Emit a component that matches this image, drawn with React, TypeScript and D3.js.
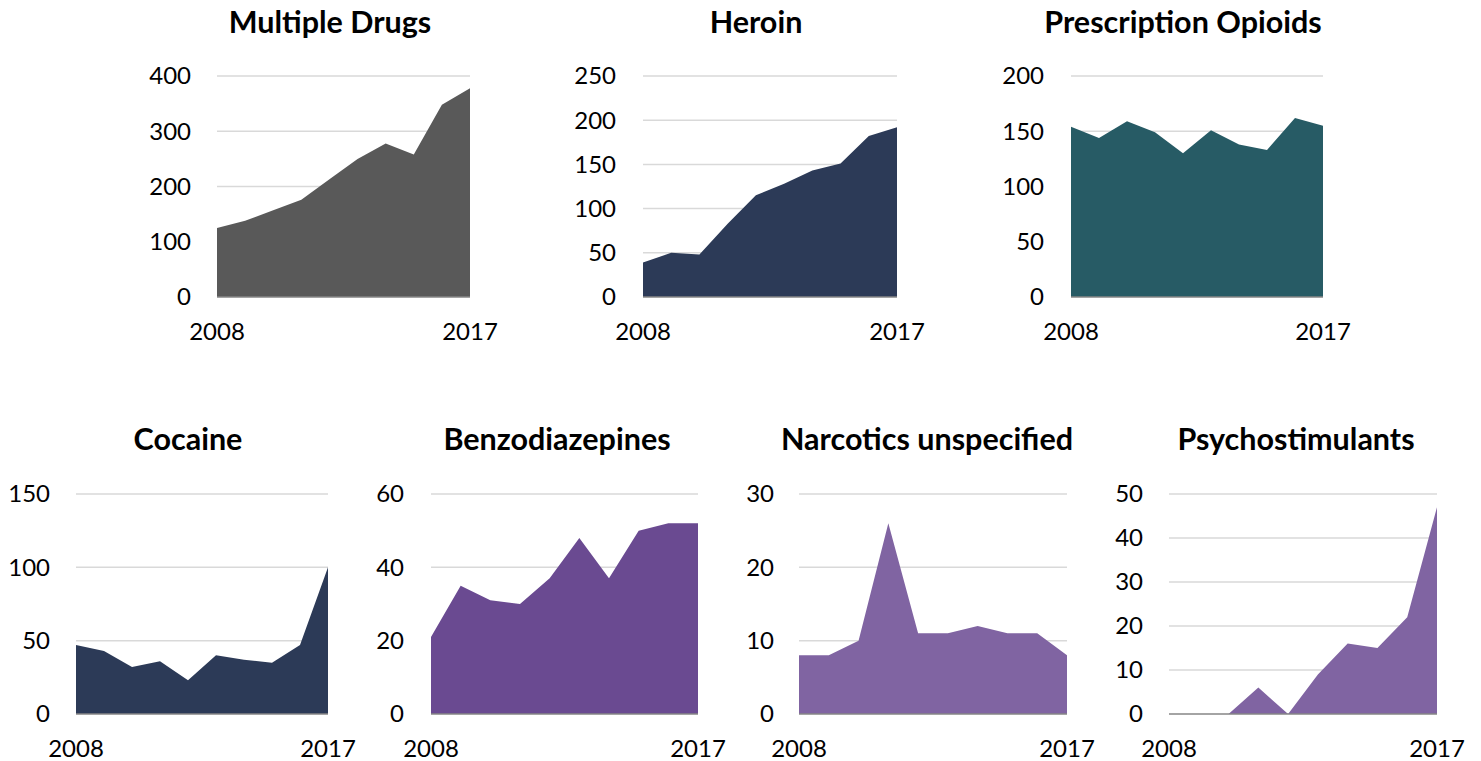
import React from "react";
import * as d3 from "d3";

const years = [2008, 2009, 2010, 2011, 2012, 2013, 2014, 2015, 2016, 2017];
const xTickLabels = ["2008", "2017"];

const multipleDrugs = [125, 138, 157, 176, 213, 250, 278, 258, 348, 378];
const heroin = [39, 50, 48, 83, 115, 128, 143, 151, 182, 192];
const prescriptionOpioids = [154, 144, 159, 149, 130, 151, 138, 133, 162, 155];
const cocaine = [47, 43, 32, 36, 23, 40, 37, 35, 47, 100];
const benzodiazepines = [21, 35, 31, 30, 37, 48, 37, 50, 52, 52];
const narcoticsUnspecified = [8, 8, 10, 26, 11, 11, 12, 11, 11, 8];
const psychostimulants = [0, 0, 0, 6, 0, 9, 16, 15, 22, 47];

const yTicksMultiple = [0, 100, 200, 300, 400];
const yTicksHeroin = [0, 50, 100, 150, 200, 250];
const yTicksPresc = [0, 50, 100, 150, 200];
const yTicksCocaine = [0, 50, 100, 150];
const yTicksBenzo = [0, 20, 40, 60];
const yTicksNarc = [0, 10, 20, 30];
const yTicksPsycho = [0, 10, 20, 30, 40, 50];

type Panel = {
  title: string;
  values: number[];
  ticks: number[];
  color: string;
  x0: number; x1: number; yTop: number; yBottom: number;
  titleX: number; titleY: number; labelRight: number; xLabelY: number;
};

const panels: Panel[] = [
  { title: "Multiple Drugs", values: multipleDrugs, ticks: yTicksMultiple, color: "#595959",
    x0: 217, x1: 470, yTop: 76, yBottom: 297, titleX: 330, titleY: 33, labelRight: 191, xLabelY: 340 },
  { title: "Heroin", values: heroin, ticks: yTicksHeroin, color: "#2C3A57",
    x0: 643, x1: 897, yTop: 76, yBottom: 297, titleX: 756, titleY: 33, labelRight: 616, xLabelY: 340 },
  { title: "Prescription Opioids", values: prescriptionOpioids, ticks: yTicksPresc, color: "#275B65",
    x0: 1071, x1: 1323, yTop: 76, yBottom: 297, titleX: 1183, titleY: 33, labelRight: 1044, xLabelY: 340 },
  { title: "Cocaine", values: cocaine, ticks: yTicksCocaine, color: "#2C3A57",
    x0: 76, x1: 328, yTop: 494, yBottom: 714, titleX: 188, titleY: 450, labelRight: 50, xLabelY: 757 },
  { title: "Benzodiazepines", values: benzodiazepines, ticks: yTicksBenzo, color: "#6A4A91",
    x0: 431, x1: 698, yTop: 494, yBottom: 714, titleX: 557, titleY: 450, labelRight: 404, xLabelY: 757 },
  { title: "Narcotics unspecified", values: narcoticsUnspecified, ticks: yTicksNarc, color: "#8064A2",
    x0: 799, x1: 1067, yTop: 494, yBottom: 714, titleX: 927, titleY: 450, labelRight: 774, xLabelY: 757 },
  { title: "Psychostimulants", values: psychostimulants, ticks: yTicksPsycho, color: "#8064A2",
    x0: 1169, x1: 1437, yTop: 494, yBottom: 714, titleX: 1296, titleY: 450, labelRight: 1143, xLabelY: 757 },
];

const FONT = "Lato, 'Open Sans', sans-serif";

function PanelChart({ p }: { p: Panel }) {
  const x = d3.scalePoint<number>().domain(years).range([p.x0, p.x1]);
  const yMax = p.ticks[p.ticks.length - 1];
  const y = d3.scaleLinear().domain([0, yMax]).range([p.yBottom, p.yTop]);
  const area = d3
    .area<number>()
    .x((_, i) => x(years[i]) as number)
    .y0(y(0))
    .y1((d) => y(d));
  return (
    <g>
      <text x={p.titleX} y={p.titleY} textAnchor="middle" fontFamily={FONT} fontWeight="bold" fontSize={30.5} fill="#000">
        {p.title}
      </text>
      {p.ticks.map((t) => (
        <g key={t}>
          {t !== 0 && (
            <line x1={p.x0} x2={p.x1} y1={y(t)} y2={y(t)} stroke="#d9d9d9" strokeWidth={1.5} />
          )}
          <text x={p.labelRight} y={y(t)} dy="0.35em" textAnchor="end" fontFamily={FONT} fontSize={24} fill="#000">
            {t}
          </text>
        </g>
      ))}
      <path d={area(p.values) || ""} fill={p.color} />
      <line x1={p.x0} x2={p.x1} y1={y(0)} y2={y(0)} stroke="#868686" strokeWidth={1.5} />
      <text x={x(years[0])} y={p.xLabelY} textAnchor="middle" fontFamily={FONT} fontSize={24} fill="#000">
        {xTickLabels[0]}
      </text>
      <text x={x(years[years.length - 1])} y={p.xLabelY} textAnchor="middle" fontFamily={FONT} fontSize={24} fill="#000">
        {xTickLabels[1]}
      </text>
    </g>
  );
}

export default function App() {
  return (
    <svg width={1481} height={761} style={{ position: "absolute", left: 0, top: 0, background: "#fff" }}>
      <rect width={1481} height={761} fill="#fff" />
      {panels.map((p) => (
        <PanelChart key={p.title} p={p} />
      ))}
    </svg>
  );
}
